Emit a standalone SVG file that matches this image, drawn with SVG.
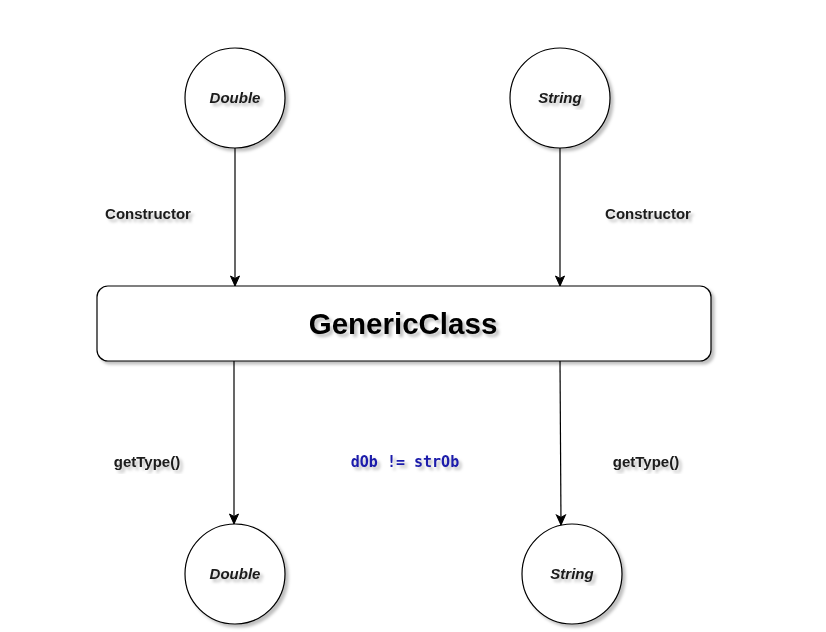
<svg xmlns="http://www.w3.org/2000/svg" width="826" height="632" viewBox="0 0 826 632">
<defs>
<filter id="sh" x="-20%" y="-20%" width="140%" height="140%">
<feDropShadow dx="3" dy="3" stdDeviation="1.5" flood-color="#000" flood-opacity="0.25"/>
</filter>
<marker id="arr" markerWidth="12" markerHeight="12" refX="11" refY="6" orient="auto" markerUnits="userSpaceOnUse">
<path d="M1,1.5 L11,6 L1,10.5 L3.5,6 Z" fill="#000" stroke="#000" stroke-width="1"/>
</marker>
<style>
.shape{fill:#fff;stroke:#000;stroke-width:1.2;filter:url(#sh)}
.lbl{font-family:"Liberation Sans",Arial,sans-serif;font-weight:bold;font-size:15px;fill:#1a1a1a;text-anchor:middle;filter:url(#sh)}
.it{font-style:italic}
.big{font-size:29.5px;fill:#000}
.code{font-family:"DejaVu Sans Mono","Liberation Mono",monospace;font-weight:bold;font-size:15px;fill:#1a1aaa;text-anchor:middle;filter:url(#sh)}
.edge{stroke:#000;stroke-width:1.2;fill:none;marker-end:url(#arr)}
</style>
</defs>
<rect width="826" height="632" fill="#fff"/>
<g id="connectors">
<line class="edge" x1="235" y1="148" x2="235" y2="286"/>
<line class="edge" x1="560" y1="148" x2="560" y2="286"/>
<line class="edge" x1="234" y1="361" x2="234" y2="524"/>
<line class="edge" x1="560" y1="361" x2="561" y2="525"/>
</g>
<g id="double-top">
<circle class="shape" cx="235" cy="98" r="50"/>
<text class="lbl it" x="235" y="103">Double</text>
</g>
<g id="string-top">
<circle class="shape" cx="560" cy="98" r="50"/>
<text class="lbl it" x="560" y="103">String</text>
</g>
<g id="generic-class">
<rect class="shape" x="97" y="286" width="614" height="75" rx="11" ry="11"/>
<text class="lbl big" x="403" y="334">GenericClass</text>
</g>
<g id="double-bottom">
<circle class="shape" cx="235" cy="574" r="50"/>
<text class="lbl it" x="235" y="579">Double</text>
</g>
<g id="string-bottom">
<circle class="shape" cx="572" cy="574" r="50"/>
<text class="lbl it" x="572" y="579">String</text>
</g>
<g id="labels">
<text class="lbl" x="148" y="219">Constructor</text>
<text class="lbl" x="648" y="219">Constructor</text>
<text class="lbl" x="147" y="467">getType()</text>
<text class="lbl" x="646" y="467">getType()</text>
<text class="code" x="405" y="467">dOb != strOb</text>
</g>
</svg>
